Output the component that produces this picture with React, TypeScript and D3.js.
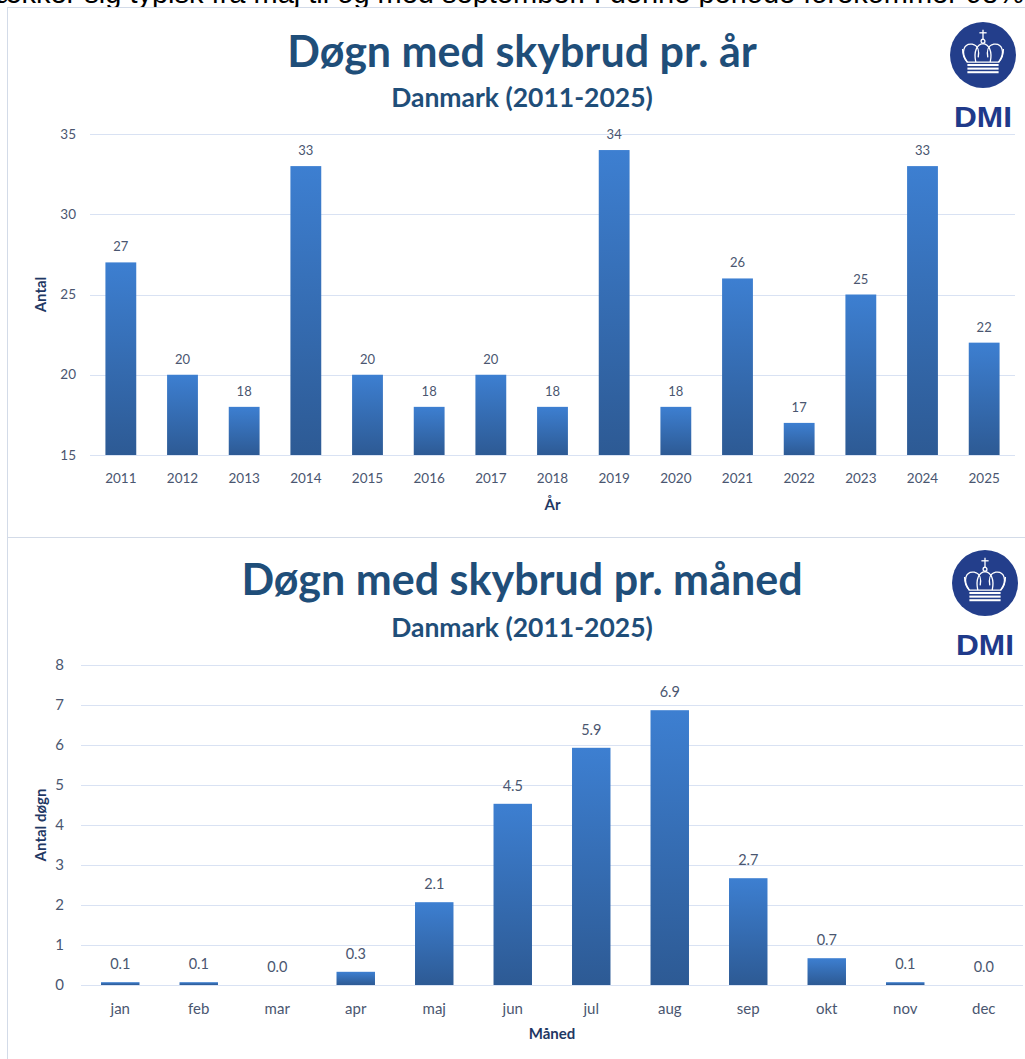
import React from 'react';
import * as d3 from 'd3';

// data
const years = ['2011', '2012', '2013', '2014', '2015', '2016', '2017', '2018', '2019', '2020', '2021', '2022', '2023', '2024', '2025'];
const yearCounts = [27, 20, 18, 33, 20, 18, 20, 18, 34, 18, 26, 17, 25, 33, 22];
const yearTicks = [15, 20, 25, 30, 35];

const months = ['jan', 'feb', 'mar', 'apr', 'maj', 'jun', 'jul', 'aug', 'sep', 'okt', 'nov', 'dec'];
const monthMeans = [0.07, 0.07, 0, 0.33, 2.07, 4.53, 5.93, 6.87, 2.67, 0.67, 0.07, 0];
const monthTicks = [0, 1, 2, 3, 4, 5, 6, 7, 8];

const topLine = 'strækker sig typisk fra maj til og med september. I denne periode forekommer 98%';

const FONT = 'Lato, "Open Sans", sans-serif';
const TITLE = '#1f4e79';
const AXIS = '#1f3864';
const TICK = '#4a5670';
const GRID = '#d9e2f3';
const BORDER = '#d3dbe8';

function Logo({ cx, cy }) {
  return (
    <g transform={`translate(${cx},${cy})`}>
      <circle r={33} fill="#233e8b" />
      <g transform="scale(1.2)">
        <g fill="none" stroke="#fff" strokeWidth={1.1}>
          {/* cross */}
          <line x1={0} y1={-21} x2={0} y2={-13} />
          <line x1={-3} y1={-18.5} x2={3} y2={-18.5} />
          <circle cx={0} cy={-11.5} r={1.6} />
          {/* arches */}
          <path d="M-13,6 C-19,-2 -16,-10 -9,-9 C-4,-8 -3,-3 -4,2" />
          <path d="M13,6 C19,-2 16,-10 9,-9 C4,-8 3,-3 4,2" />
          <path d="M-6,6 C-8,-3 -5,-9 0,-9.5 C5,-9 8,-3 6,6" />
          <path d="M-17,-5 C-17,1 -15,4 -13,6 L13,6 C15,4 17,1 17,-5" />
        </g>
        <g fill="#fff">
          <rect x={-13} y={7.5} width={26} height={1.7} />
          <rect x={-13} y={10.5} width={26} height={1.7} />
          <rect x={-13} y={13.5} width={26} height={1.7} />
        </g>
      </g>
      <text x={0} y={72} textAnchor="middle" fontFamily='"Liberation Sans", Arial, sans-serif' fontWeight={700} fontSize={29} fill="#1f3a8a" textLength={58} lengthAdjust="spacingAndGlyphs">DMI</text>
    </g>
  );
}

function BarPanel({ top, title, titleY, subY, cats, values, ticks, domain, left, right, yTop, yBottom, barPad, fmt, labelGap, tickSize, tickX, catY, axisTitle, axisTitleY, yTitle, logoX, logoY, gradId }) {
  const x = d3.scaleBand().domain(cats).range([left, right]).paddingInner(barPad).paddingOuter(barPad / 2);
  const y = d3.scaleLinear().domain(domain).range([yBottom, yTop]);
  return (
    <g>
      <rect x={7.5} y={top + 0.5} width={1040} height={1059} fill="#fff" stroke={BORDER} />
      <text x={522} y={titleY} textAnchor="middle" fontFamily={FONT} fontWeight={700} fontSize={43} fill={TITLE}>{title}</text>
      <text x={522} y={subY} textAnchor="middle" fontFamily={FONT} fontWeight={700} fontSize={26.5} fill={TITLE}>Danmark (2011-2025)</text>
      <Logo cx={logoX} cy={logoY} />
      {ticks.map(t => (
        <g key={t}>
          <line x1={left} x2={right} y1={Math.round(y(t)) + 0.5} y2={Math.round(y(t)) + 0.5} stroke={GRID} strokeWidth={1.2} />
          <text x={tickX} y={y(t)} dy="0.35em" textAnchor="end" fontFamily={FONT} fontSize={tickSize} fill={TICK}>{t}</text>
        </g>
      ))}
      {cats.map((c, i) => {
        const v = values[i];
        const x0 = x(c);
        const h = y(domain[0]) - y(v);
        return (
          <g key={c}>
            {h > 0 && <rect x={x0} y={y(v)} width={x.bandwidth()} height={h} fill={`url(#${gradId})`} />}
            <text x={x0 + x.bandwidth() / 2} y={y(v) - labelGap} textAnchor="middle" fontFamily={FONT} fontSize={tickSize - 0.5} fill={TICK}>{fmt(v)}</text>
            <text x={x0 + x.bandwidth() / 2} y={catY} textAnchor="middle" fontFamily={FONT} fontSize={tickSize} fill={TICK}>{c}</text>
          </g>
        );
      })}
      <text x={(left + right) / 2} y={axisTitleY} textAnchor="middle" fontFamily={FONT} fontWeight={700} fontSize={15} fill={AXIS}>{axisTitle}</text>
      <text transform={`translate(46,${(yTop + yBottom) / 2}) rotate(-90)`} textAnchor="middle" fontFamily={FONT} fontWeight={700} fontSize={15} fill={AXIS}>{yTitle}</text>
    </g>
  );
}

export default function App() {
  return (
    <svg width={1025} height={1059} style={{ position: 'absolute', left: 0, top: 0, background: '#fff' }}>
      <defs>
        <linearGradient id="barGrad" x1="0" y1="0" x2="0" y2="1">
          <stop offset="0%" stopColor="#3d7fd1" />
          <stop offset="100%" stopColor="#2d5a94" />
        </linearGradient>
      </defs>
      <text x={1024} y={3} textAnchor="end" fontFamily='"Liberation Sans", Arial, sans-serif' fontSize={29} fill="#000">{topLine}</text>
      <BarPanel top={7} title="Døgn med skybrud pr. år" titleY={67} subY={107}
        cats={years} values={yearCounts} ticks={yearTicks} domain={[15, 35]}
        left={90} right={1015} yTop={134} yBottom={455} barPad={0.5}
        fmt={d3.format('d')} labelGap={11} tickSize={13.5} tickX={76} catY={483}
        axisTitle="År" axisTitleY={510} yTitle="Antal" logoX={983} logoY={55} gradId="barGrad" />
      <BarPanel top={537} title="Døgn med skybrud pr. måned" titleY={595} subY={637}
        cats={months} values={monthMeans} ticks={monthTicks} domain={[0, 8]}
        left={81} right={1023} yTop={665} yBottom={985} barPad={0.51}
        fmt={d3.format('.1f')} labelGap={13} tickSize={15} tickX={64} catY={1014}
        axisTitle="Måned" axisTitleY={1039} yTitle="Antal døgn" logoX={985} logoY={583} gradId="barGrad" />
    </svg>
  );
}
